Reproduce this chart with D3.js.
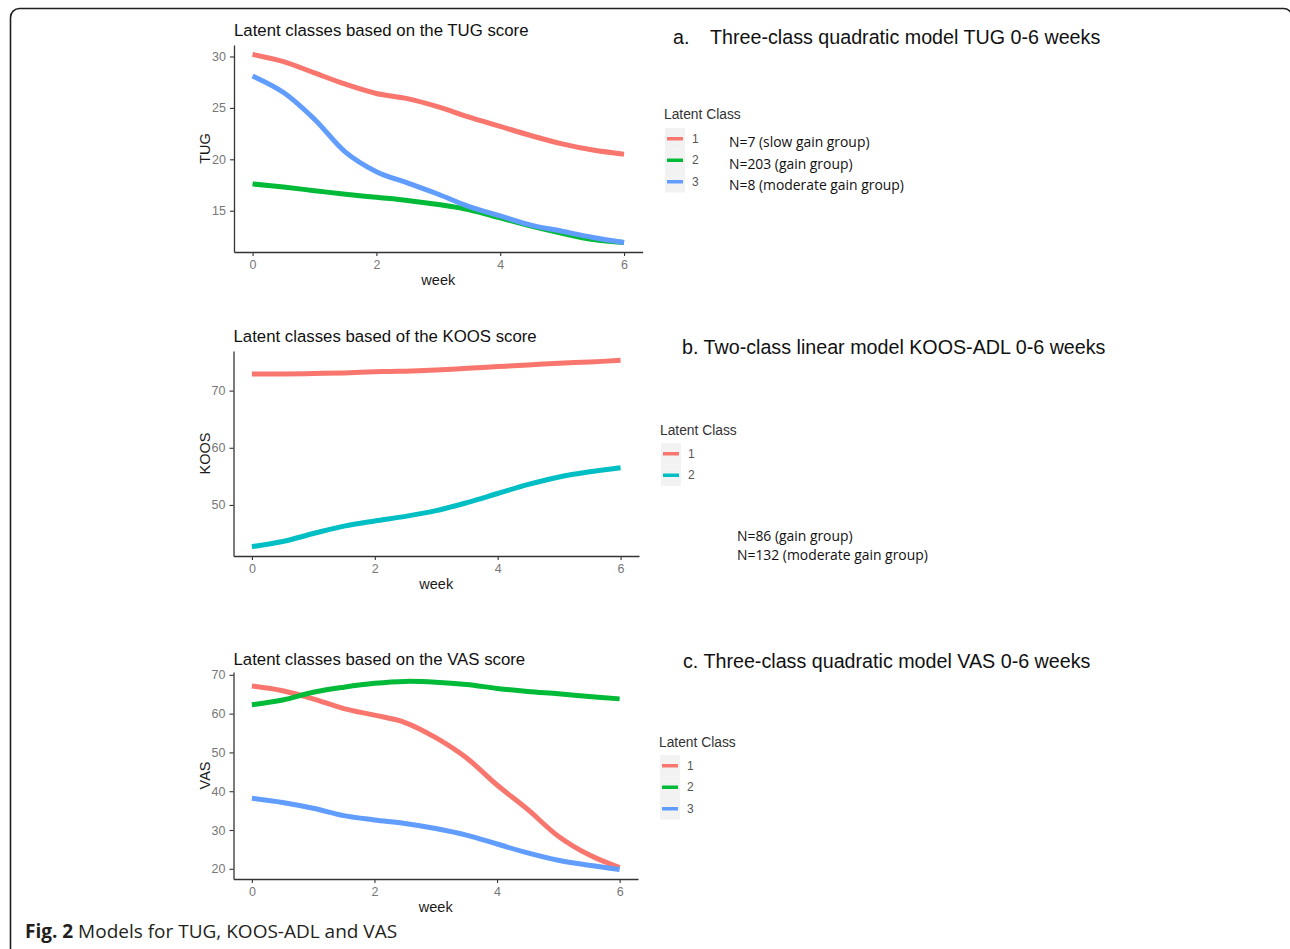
<!DOCTYPE html>
<html>
<head>
<meta charset="utf-8">
<script src="https://cdn.jsdelivr.net/npm/d3@7"></script>
<style>
  body { margin: 0; background: #fff; }
  svg { display: block; }
</style>
</head>
<body>
<div id="chart"></div>
<script>
// DATA (half-week steps)
var weeks = [0, 0.5, 1, 1.5, 2, 2.5, 3, 3.5, 4, 4.5, 5, 5.5, 6];
var weekTicks = [0, 2, 4, 6];

// a. TUG
var tugClass1 = [30.2, 29.5, 28.4, 27.3, 26.4, 25.9, 25.1, 24.1, 23.2, 22.3, 21.5, 20.9, 20.5];
var tugClass2 = [17.6, 17.3, 16.95, 16.6, 16.3, 16.0, 15.6, 15.1, 14.3, 13.5, 12.8, 12.2, 11.9];
var tugClass3 = [28.1, 26.5, 23.9, 20.7, 18.8, 17.7, 16.6, 15.4, 14.5, 13.6, 13.0, 12.4, 11.9];
var tugTicks = [15, 20, 25, 30];
var tugLabels = ["N=7 (slow gain group)", "N=203 (gain group)", "N=8 (moderate gain group)"];

// b. KOOS
var koosClass1 = [72.9, 72.9, 73.0, 73.1, 73.3, 73.4, 73.6, 73.9, 74.2, 74.5, 74.8, 75.0, 75.3];
var koosClass2 = [42.7, 43.6, 45.0, 46.3, 47.2, 48.0, 49.0, 50.4, 52.0, 53.6, 54.9, 55.8, 56.5];
var koosTicks = [50, 60, 70];
var koosLabels = ["N=86 (gain group)", "N=132 (moderate gain group)"];

// c. VAS
var vasClass1 = [67.1, 65.9, 63.8, 61.3, 59.6, 57.7, 53.8, 48.6, 41.6, 35.3, 28.4, 23.6, 20.3];
var vasClass2 = [62.3, 63.5, 65.5, 66.8, 67.8, 68.3, 68.1, 67.5, 66.5, 65.7, 65.1, 64.4, 63.8];
var vasClass3 = [38.2, 37.1, 35.6, 33.7, 32.6, 31.7, 30.4, 28.7, 26.4, 24.1, 22.2, 20.9, 19.8];
var vasTicks = [20, 30, 40, 50, 60, 70];

var classNames3 = ["1", "2", "3"];
var classNames2 = ["1", "2"];

// ggplot default hues
var col3 = ["#F8766D", "#00BA38", "#619CFF"];
var col2 = ["#F8766D", "#00BFC4"];

var W = 1290, H = 949;

var svg = d3.select("#chart")
  .append("svg")
  .attr("width", W)
  .attr("height", H)
  .style("font-family", "'Liberation Sans', Arial, sans-serif");

// outer frame
svg.append("rect")
  .attr("x", 10.5)
  .attr("y", 8.5)
  .attr("width", 1282)
  .attr("height", 950)
  .attr("rx", 9)
  .attr("fill", "none")
  .attr("stroke", "#231f20")
  .attr("stroke-width", 1.6);

// panel settings
var panels = [
  {
    title: "Latent classes based on the TUG score", titleY: 36,
    yTitle: "TUG", series: [tugClass1, tugClass2, tugClass3], colors: col3, ticks: tugTicks,
    left: 234, right: 642.6, top: 45, bottom: 252, weekY: 285,
    heading: ["a.", "Three-class quadratic model TUG 0-6 weeks"], headX: [673, 710], headY: 44,
    legX: 664, legTitleY: 119, keyTop: 128, names: classNames3, nlabels: tugLabels, nX: 729, nY: 147
  },
  {
    title: "Latent classes based of the KOOS score", titleY: 342,
    yTitle: "KOOS", series: [koosClass1, koosClass2], colors: col2, ticks: koosTicks,
    left: 233.5, right: 639, top: 351, bottom: 556, weekY: 589,
    heading: ["b. Two-class linear model KOOS-ADL 0-6 weeks"], headX: [682], headY: 354,
    legX: 660, legTitleY: 435, keyTop: 443, names: classNames2, nlabels: koosLabels, nX: 737, nY: 541, nStep: 19
  },
  {
    title: "Latent classes based on the VAS score", titleY: 665,
    yTitle: "VAS", series: [vasClass1, vasClass2, vasClass3], colors: col3, ticks: vasTicks,
    left: 233.5, right: 638, top: 672, bottom: 879, weekY: 912,
    heading: ["c. Three-class quadratic model VAS 0-6 weeks"], headX: [683], headY: 668,
    legX: 659, legTitleY: 747, keyTop: 755, names: classNames3, nlabels: null
  }
];

panels.forEach(function(p) {
  var g = svg.append("g");

  // ggplot style 5% expansion on both scales
  var xs = d3.scaleLinear()
    .domain([-0.3, 6.3])
    .range([p.left, p.right]);

  var all = d3.merge(p.series);
  var lo = d3.min(all), hi = d3.max(all), pad = (hi - lo) * 0.05;
  var ys = d3.scaleLinear()
    .domain([lo - pad, hi + pad])
    .range([p.bottom, p.top]);

  // axes
  var xAxis = g.append("g")
    .attr("transform", "translate(0," + p.bottom + ")")
    .call(d3.axisBottom(xs).tickValues(weekTicks).tickFormat(d3.format("d"))
      .tickSize(4).tickSizeOuter(0).tickPadding(4));
  var yAxis = g.append("g")
    .attr("transform", "translate(" + p.left + ",0)")
    .call(d3.axisLeft(ys).tickValues(p.ticks).tickFormat(d3.format("d"))
      .tickSize(4).tickSizeOuter(0).tickPadding(4));

  [xAxis, yAxis].forEach(function(a) {
    a.attr("font-size", null).attr("font-family", null);
    a.select(".domain").attr("stroke", "#333").attr("stroke-width", 1.3);
    a.selectAll(".tick line").attr("stroke", "#333").attr("stroke-width", 1.1);
    a.selectAll(".tick text")
      .attr("fill", "#777")
      .style("font-size", "12.5px")
      .style("font-family", "'Liberation Sans', Arial, sans-serif");
  });

  // lines
  var line = d3.line()
    .x(function(d, i) { return xs(weeks[i]); })
    .y(function(d) { return ys(d); })
    .curve(d3.curveCatmullRom);

  g.selectAll("path.trend")
    .data(p.series)
    .enter()
    .append("path")
    .attr("class", "trend")
    .attr("d", line)
    .attr("fill", "none")
    .attr("stroke", function(d, i) { return p.colors[i]; })
    .attr("stroke-width", 5);

  // titles
  g.append("text")
    .attr("x", p.left)
    .attr("y", p.titleY)
    .attr("fill", "#111")
    .style("font-size", "16.8px")
    .text(p.title);

  g.append("text")
    .attr("x", (p.left + p.right) / 2)
    .attr("y", p.weekY)
    .attr("text-anchor", "middle")
    .attr("fill", "#1a1a1a")
    .style("font-size", "14.5px")
    .text("week");

  g.append("text")
    .attr("transform", "translate(210," + ((p.top + p.bottom) / 2) + ") rotate(-90)")
    .attr("text-anchor", "middle")
    .attr("fill", "#1a1a1a")
    .style("font-size", "14.5px")
    .text(p.yTitle);

  // heading on the right
  p.heading.forEach(function(t, i) {
    g.append("text")
      .attr("x", p.headX[i])
      .attr("y", p.headY)
      .attr("fill", "#111")
      .style("font-size", "19.7px")
      .text(t);
  });

  // legend
  g.append("text")
    .attr("x", p.legX)
    .attr("y", p.legTitleY)
    .attr("fill", "#333")
    .style("font-size", "13.8px")
    .text("Latent Class");

  var keyH = 21.5;
  var keys = g.selectAll("g.key")
    .data(p.names)
    .enter()
    .append("g")
    .attr("class", "key")
    .attr("transform", function(d, i) {
      return "translate(" + (p.legX + 1) + "," + (p.keyTop + i * keyH) + ")";
    });

  keys.append("rect")
    .attr("width", 20)
    .attr("height", keyH)
    .attr("fill", "#f2f2f2");

  keys.append("line")
    .attr("x1", 2).attr("x2", 18)
    .attr("y1", keyH / 2).attr("y2", keyH / 2)
    .attr("stroke", function(d, i) { return p.colors[i]; })
    .attr("stroke-width", 3.5);

  keys.append("text")
    .attr("x", 27)
    .attr("y", keyH / 2 + 4)
    .attr("fill", "#555")
    .style("font-size", "12px")
    .text(function(d) { return d; });

  // group sizes
  if (p.nlabels) {
    var step = p.nStep || keyH;
    g.selectAll("text.nlab")
      .data(p.nlabels)
      .enter()
      .append("text")
      .attr("class", "nlab")
      .attr("x", p.nX)
      .attr("y", function(d, i) { return p.nY + i * step; })
      .attr("fill", "#111")
      .style("font-family", "'Open Sans', sans-serif")
      .style("font-size", "13.9px")
      .text(function(d) { return d; });
  }
});

// caption
var cap = svg.append("text")
  .attr("x", 25)
  .attr("y", 938)
  .attr("fill", "#231f20")
  .style("font-family", "'Open Sans', sans-serif")
  .style("font-size", "19px");
cap.append("tspan").style("font-weight", "bold").text("Fig. 2");
cap.append("tspan").text(" Models for TUG, KOOS-ADL and VAS");
</script>
</body>
</html>
